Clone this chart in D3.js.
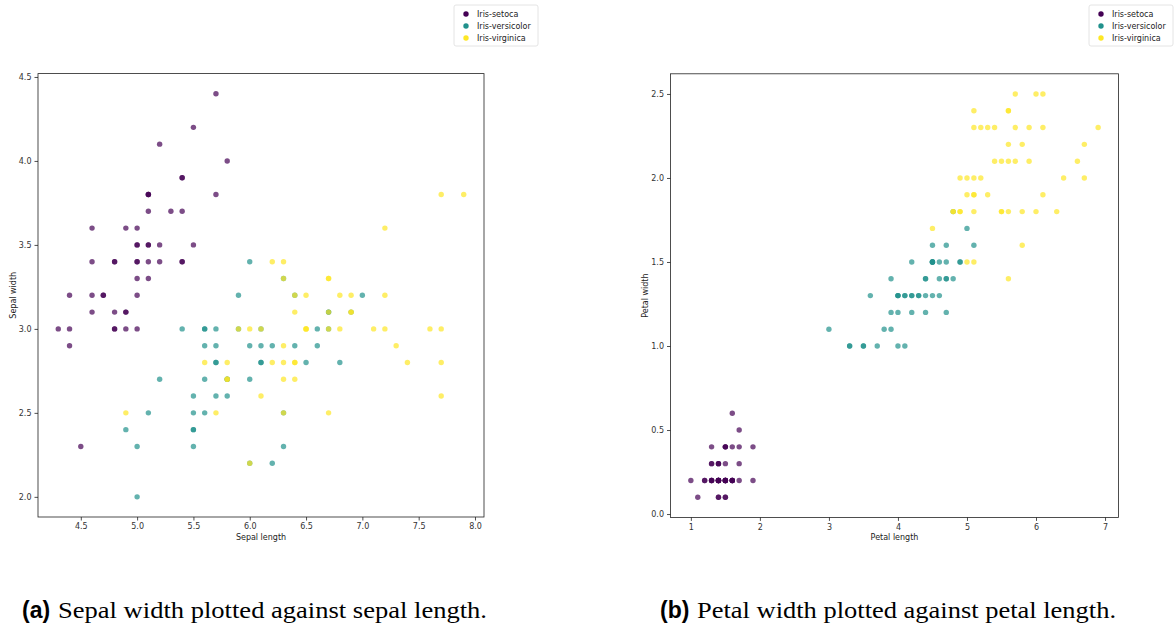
<!DOCTYPE html>
<html>
<head>
<meta charset="utf-8">
<script src="https://cdn.jsdelivr.net/npm/d3@7"></script>
<style>
  body { margin: 0; background: #fff; }
  svg { display: block; }
  .tick text { font-family: "DejaVu Sans", sans-serif; font-size: 8px; fill: #333; }
  .lbl { font-family: "DejaVu Sans", sans-serif; font-size: 8px; fill: #222; }
</style>
</head>
<body>
<svg id="chart" width="1176" height="628"></svg>
<script>
// rows: sepal length, sepal width, petal length, petal width
var setosa = [
	[5.1,3.5,1.4,0.2],[4.9,3.0,1.4,0.2],[4.7,3.2,1.3,0.2],[4.6,3.1,1.5,0.2],[5.0,3.6,1.4,0.2],
	[5.4,3.9,1.7,0.4],[4.6,3.4,1.4,0.3],[5.0,3.4,1.5,0.2],[4.4,2.9,1.4,0.2],[4.9,3.1,1.5,0.1],
	[5.4,3.7,1.5,0.2],[4.8,3.4,1.6,0.2],[4.8,3.0,1.4,0.1],[4.3,3.0,1.1,0.1],[5.8,4.0,1.2,0.2],
	[5.7,4.4,1.5,0.4],[5.4,3.9,1.3,0.4],[5.1,3.5,1.4,0.3],[5.7,3.8,1.7,0.3],[5.1,3.8,1.5,0.3],
	[5.4,3.4,1.7,0.2],[5.1,3.7,1.5,0.4],[4.6,3.6,1.0,0.2],[5.1,3.3,1.7,0.5],[4.8,3.4,1.9,0.2],
	[5.0,3.0,1.6,0.2],[5.0,3.4,1.6,0.4],[5.2,3.5,1.5,0.2],[5.2,3.4,1.4,0.2],[4.7,3.2,1.6,0.2],
	[4.8,3.1,1.6,0.2],[5.4,3.4,1.5,0.4],[5.2,4.1,1.5,0.1],[5.5,4.2,1.4,0.2],[4.9,3.1,1.5,0.2],
	[5.0,3.2,1.2,0.2],[5.5,3.5,1.3,0.2],[4.9,3.6,1.4,0.1],[4.4,3.0,1.3,0.2],[5.1,3.4,1.5,0.2],
	[5.0,3.5,1.3,0.3],[4.5,2.3,1.3,0.3],[4.4,3.2,1.3,0.2],[5.0,3.5,1.6,0.6],[5.1,3.8,1.9,0.4],
	[4.8,3.0,1.4,0.3],[5.1,3.8,1.6,0.2],[4.6,3.2,1.4,0.2],[5.3,3.7,1.5,0.2],[5.0,3.3,1.4,0.2]
];
var versicolor = [
	[7.0,3.2,4.7,1.4],[6.4,3.2,4.5,1.5],[6.9,3.1,4.9,1.5],[5.5,2.3,4.0,1.3],[6.5,2.8,4.6,1.5],
	[5.7,2.8,4.5,1.3],[6.3,3.3,4.7,1.6],[4.9,2.4,3.3,1.0],[6.6,2.9,4.6,1.3],[5.2,2.7,3.9,1.4],
	[5.0,2.0,3.5,1.0],[5.9,3.0,4.2,1.5],[6.0,2.2,4.0,1.0],[6.1,2.9,4.7,1.4],[5.6,2.9,3.6,1.3],
	[6.7,3.1,4.4,1.4],[5.6,3.0,4.5,1.5],[5.8,2.7,4.1,1.0],[6.2,2.2,4.5,1.5],[5.6,2.5,3.9,1.1],
	[5.9,3.2,4.8,1.8],[6.1,2.8,4.0,1.3],[6.3,2.5,4.9,1.5],[6.1,2.8,4.7,1.2],[6.4,2.9,4.3,1.3],
	[6.6,3.0,4.4,1.4],[6.8,2.8,4.8,1.4],[6.7,3.0,5.0,1.7],[6.0,2.9,4.5,1.5],[5.7,2.6,3.5,1.0],
	[5.5,2.4,3.8,1.1],[5.5,2.4,3.7,1.0],[5.8,2.7,3.9,1.2],[6.0,2.7,5.1,1.6],[5.4,3.0,4.5,1.5],
	[6.0,3.4,4.5,1.6],[6.7,3.1,4.7,1.5],[6.3,2.3,4.4,1.3],[5.6,3.0,4.1,1.3],[5.5,2.5,4.0,1.3],
	[5.5,2.6,4.4,1.2],[6.1,3.0,4.6,1.4],[5.8,2.6,4.0,1.2],[5.0,2.3,3.3,1.0],[5.6,2.7,4.2,1.3],
	[5.7,3.0,4.2,1.2],[5.7,2.9,4.2,1.3],[6.2,2.9,4.3,1.3],[5.1,2.5,3.0,1.1],[5.7,2.8,4.1,1.3]
];
var virginica = [
	[6.3,3.3,6.0,2.5],[5.8,2.7,5.1,1.9],[7.1,3.0,5.9,2.1],[6.3,2.9,5.6,1.8],[6.5,3.0,5.8,2.2],
	[7.6,3.0,6.6,2.1],[4.9,2.5,4.5,1.7],[7.3,2.9,6.3,1.8],[6.7,2.5,5.8,1.8],[7.2,3.6,6.1,2.5],
	[6.5,3.2,5.1,2.0],[6.4,2.7,5.3,1.9],[6.8,3.0,5.5,2.1],[5.7,2.5,5.0,2.0],[5.8,2.8,5.1,2.4],
	[6.4,3.2,5.3,2.3],[6.5,3.0,5.5,1.8],[7.7,3.8,6.7,2.2],[7.7,2.6,6.9,2.3],[6.0,2.2,5.0,1.5],
	[6.9,3.2,5.7,2.3],[5.6,2.8,4.9,2.0],[7.7,2.8,6.7,2.0],[6.3,2.7,4.9,1.8],[6.7,3.3,5.7,2.1],
	[7.2,3.2,6.0,1.8],[6.2,2.8,4.8,1.8],[6.1,3.0,4.9,1.8],[6.4,2.8,5.6,2.1],[7.2,3.0,5.8,1.6],
	[7.4,2.8,6.1,1.9],[7.9,3.8,6.4,2.0],[6.4,2.8,5.6,2.2],[6.3,2.8,5.1,1.5],[6.1,2.6,5.6,1.4],
	[7.7,3.0,6.1,2.3],[6.3,3.4,5.6,2.4],[6.4,3.1,5.5,1.8],[6.0,3.0,4.8,1.8],[6.9,3.1,5.4,2.1],
	[6.7,3.1,5.6,2.4],[6.9,3.1,5.1,2.3],[5.8,2.7,5.1,1.9],[6.8,3.2,5.9,2.3],[6.7,3.3,5.7,2.5],
	[6.7,3.0,5.2,2.3],[6.3,2.5,5.0,1.9],[6.5,3.0,5.2,2.0],[6.2,3.4,5.4,2.3],[5.9,3.0,5.1,1.8]
];

var speciesNames = ["Iris-setoca", "Iris-versicolor", "Iris-virginica"];
var speciesColors = ["#440154", "#21918c", "#fde725"];
var groups = [setosa, versicolor, virginica];

var sepalLengthTicks = [4.5, 5.0, 5.5, 6.0, 6.5, 7.0, 7.5, 8.0];
var sepalWidthTicks = [2.0, 2.5, 3.0, 3.5, 4.0, 4.5];
var petalLengthTicks = [1, 2, 3, 4, 5, 6, 7];
var petalWidthTicks = [0.0, 0.5, 1.0, 1.5, 2.0, 2.5];

var svg = d3.select("#chart");

var points = [];
groups.forEach(function (g, gi) {
	g.forEach(function (r) { points.push({s: gi, v: r}); });
});

// matplotlib-like 5% margins
function padded(values) {
	var ext = d3.extent(values);
	var m = (ext[1] - ext[0]) * 0.05;
	return [ext[0] - m, ext[1] + m];
}

function panel(opts) {
	var x = d3.scaleLinear()
		.domain(padded(points.map(function (p) { return p.v[opts.xi]; })))
		.range([opts.left, opts.right]);
	var y = d3.scaleLinear()
		.domain(padded(points.map(function (p) { return p.v[opts.yi]; })))
		.range([opts.bottom, opts.top]);

	var g = svg.append("g");

	g.append("g")
		.attr("transform", "translate(0," + opts.bottom + ")")
		.call(d3.axisBottom(x).tickValues(opts.xTicks).tickFormat(opts.xFmt).tickSize(3.5).tickPadding(3))
		.call(function (a) { a.select(".domain").remove(); a.selectAll("line").attr("stroke", "#222").attr("stroke-width", 0.8); });

	g.append("g")
		.attr("transform", "translate(" + opts.left + ",0)")
		.call(d3.axisLeft(y).tickValues(opts.yTicks).tickFormat(d3.format(".1f")).tickSize(3.5).tickPadding(3))
		.call(function (a) { a.select(".domain").remove(); a.selectAll("line").attr("stroke", "#222").attr("stroke-width", 0.8); });

	g.append("g").selectAll("circle")
		.data(points)
		.join("circle")
		.attr("cx", function (d) { return x(d.v[opts.xi]); })
		.attr("cy", function (d) { return y(d.v[opts.yi]); })
		.attr("r", 2.7)
		.attr("fill", function (d) { return speciesColors[d.s]; })
		.attr("fill-opacity", 0.7);

	g.append("rect")
		.attr("x", opts.left).attr("y", opts.top)
		.attr("width", opts.right - opts.left).attr("height", opts.bottom - opts.top)
		.attr("fill", "none").attr("stroke", "#222").attr("stroke-width", 0.8);

	g.append("text").attr("class", "lbl")
		.attr("x", (opts.left + opts.right) / 2).attr("y", opts.bottom + 23)
		.attr("text-anchor", "middle").text(opts.xLabel);

	g.append("text").attr("class", "lbl")
		.attr("transform", "translate(" + opts.yLabelX + "," + (opts.top + opts.bottom) / 2 + ") rotate(-90)")
		.attr("text-anchor", "middle").text(opts.yLabel);

	// legend
	var lg = g.append("g").attr("transform", "translate(" + opts.legendX + ",5)");
	lg.append("rect").attr("x", 0).attr("y", 0).attr("width", 84).attr("height", 41)
		.attr("rx", 2).attr("fill", "#fff").attr("stroke", "#ddd").attr("stroke-width", 0.8);
	speciesNames.forEach(function (n, i) {
		lg.append("circle").attr("cx", 12).attr("cy", 9 + i * 12).attr("r", 2.7)
			.attr("fill", speciesColors[i]);
		lg.append("text").attr("class", "lbl").attr("x", 23).attr("y", 12 + i * 12).text(n);
	});
}

panel({
	xi: 0, yi: 1, left: 38, right: 484, top: 73.6, bottom: 517,
	xTicks: sepalLengthTicks, yTicks: sepalWidthTicks, xFmt: d3.format(".1f"),
	xLabel: "Sepal length", yLabel: "Sepal width", yLabelX: 16, legendX: 454
});
panel({
	xi: 2, yi: 3, left: 670.5, right: 1118.5, top: 73.8, bottom: 517.4,
	xTicks: petalLengthTicks, yTicks: petalWidthTicks, xFmt: d3.format("d"),
	xLabel: "Petal length", yLabel: "Petal width", yLabelX: 648, legendX: 1089
});

// captions: bold sans tag, then serif text stretched to the reference width
function caption(x, tag, text, textX, textW) {
	svg.append("text").attr("x", x).attr("y", 618)
		.attr("font-family", "'Liberation Sans', Arial, sans-serif")
		.attr("font-weight", "bold").attr("font-size", 23).text(tag);
	svg.append("text").attr("x", textX).attr("y", 618)
		.attr("font-family", "'Liberation Serif', 'Times New Roman', serif")
		.attr("font-size", 24)
		.attr("textLength", textW).attr("lengthAdjust", "spacingAndGlyphs")
		.text(text);
}
caption(22, "(a)", "Sepal width plotted against sepal length.", 58, 429);
caption(660, "(b)", "Petal width plotted against petal length.", 697, 419);
</script>
</body>
</html>
